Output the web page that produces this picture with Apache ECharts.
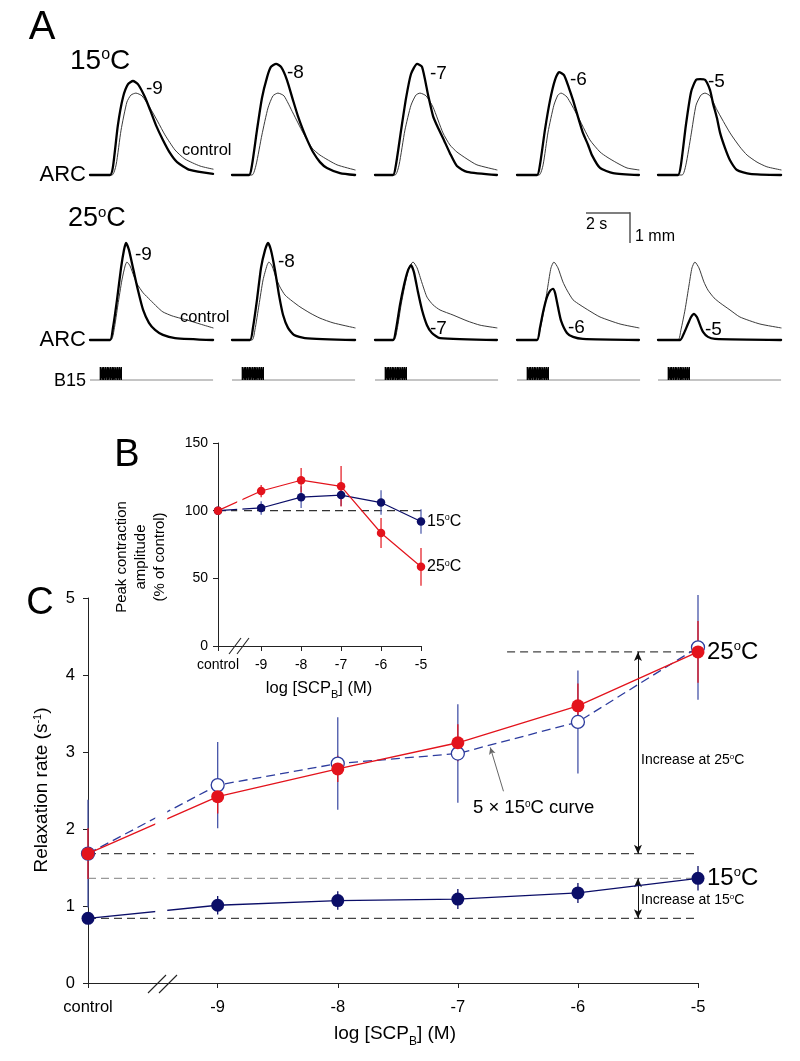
<!DOCTYPE html>
<html>
<head>
<meta charset="utf-8">
<title>SCPB - ARC contraction and relaxation</title>
<script src="https://cdn.jsdelivr.net/npm/echarts@6.0.0/dist/echarts.min.js"></script>
<style>
html, body { margin: 0; padding: 0; background: #fff; }
#chart { width: 800px; height: 1061px; }
</style>
</head>
<body>
<div id="chart"></div>
<script>
// dose axis (control + log molar concentrations)
var concLabels = ['control', '-9', '-8', '-7', '-6', '-5'];
var concX = [-10.08, -9, -8, -7, -6, -5];

// panel B: peak contraction amplitude, % of control
var peak15 = [100, 102, 110, 111.5, 106, 92];
var peak15Err = [0, 5, 8, 8, 9, 9];
var peak25 = [100, 114.5, 122.5, 118, 83.5, 58.5];
var peak25Err = [0, 4.5, 9, 15, 11, 14];

// panel C: relaxation rate, 1/s
var relax15 = [0.84, 1.01, 1.07, 1.09, 1.17, 1.36];
var relax15Err = [0.06, 0.12, 0.12, 0.13, 0.13, 0.16];
var relax25 = [1.68, 2.42, 2.78, 3.12, 3.6, 4.3];
var relax25Err = [0.33, 0.22, 0.17, 0.24, 0.29, 0.4];
var relax15x5 = [1.68, 2.57, 2.85, 2.98, 3.39, 4.36];
var relax15x5Err = [0.7, 0.56, 0.6, 0.64, 0.67, 0.68];

// panel A: ARC contraction traces [time s, mm], thick = SCPB, thin = control
var arc15_9 = [[0,0],[0.89,0],[1.02,0.21],[1.24,1.28],[1.47,2.0],[1.69,2.33],[1.91,2.41],[2.13,2.33],[2.44,2.0],[2.67,1.67],[2.93,1.28],[3.24,0.9],[3.56,0.56],[3.87,0.33],[4.44,0.13],[5.47,0.03]];
var ctl15_9 = [[0,0],[0.98,0],[1.16,0.26],[1.38,1.15],[1.64,1.87],[1.82,2.05],[2.04,2.1],[2.31,2.03],[2.67,1.72],[3.02,1.36],[3.33,1.03],[3.78,0.64],[4.22,0.41],[4.89,0.23],[5.47,0.15]];
var arc15_8 = [[0,0],[0.76,0],[0.89,0.26],[1.11,1.15],[1.33,1.97],[1.56,2.51],[1.73,2.77],[1.96,2.85],[2.18,2.77],[2.44,2.44],[2.71,1.92],[2.93,1.51],[3.16,1.15],[3.38,0.85],[3.6,0.59],[3.91,0.33],[4.22,0.18],[4.8,0.05],[5.47,0]];
var ctl15_8 = [[0,0],[0.89,0],[1.07,0.26],[1.33,1.03],[1.6,1.72],[1.82,2.03],[2.04,2.1],[2.31,2.03],[2.71,1.59],[3.16,1.08],[3.56,0.69],[3.91,0.51],[4.67,0.26],[5.47,0.13]];
var arc15_7 = [[0,0],[0.8,0],[0.93,0.26],[1.16,1.15],[1.38,1.97],[1.6,2.59],[1.87,2.85],[2.09,2.77],[2.36,2.05],[2.58,1.51],[2.8,1.21],[3.02,0.95],[3.33,0.56],[3.64,0.23],[4.09,0.08],[5.42,0]];
var ctl15_7 = [[0,0],[0.89,0],[1.07,0.26],[1.33,1.15],[1.6,1.79],[1.82,2.05],[2.0,2.1],[2.27,2.03],[2.58,1.74],[3.02,1.08],[3.33,0.77],[3.64,0.59],[4.09,0.41],[4.53,0.26],[5.42,0.13]];
var arc15_6 = [[0,0],[0.89,0],[1.02,0.26],[1.24,1.15],[1.47,1.92],[1.69,2.44],[1.87,2.64],[2.09,2.56],[2.31,2.23],[2.49,1.92],[2.71,1.49],[2.93,1.08],[3.16,0.77],[3.33,0.51],[3.69,0.18],[4.27,0.05],[5.42,0]];
var ctl15_6 = [[0,0],[0.98,0],[1.16,0.26],[1.38,1.1],[1.64,1.79],[1.82,2.05],[1.96,2.1],[2.22,2.0],[2.67,1.54],[3.24,0.9],[3.69,0.59],[4.0,0.46],[4.44,0.31],[4.89,0.18],[5.42,0.13]];
var arc15_5 = [[0,0],[0.89,0],[1.02,0.26],[1.24,1.28],[1.47,2.13],[1.69,2.44],[1.87,2.46],[2.09,2.44],[2.31,2.18],[2.44,1.85],[2.62,1.46],[2.76,1.08],[2.98,0.69],[3.2,0.38],[3.51,0.13],[4.09,0.03],[5.47,0]];
var ctl15_5 = [[0,0],[1.07,0],[1.24,0.26],[1.47,1.03],[1.69,1.79],[1.91,2.05],[2.09,2.1],[2.31,2.03],[2.62,1.67],[3.2,1.08],[3.64,0.72],[3.96,0.51],[4.4,0.33],[4.84,0.21],[5.47,0.13]];

var arc25_9 = [[0,0],[0.89,0],[1.02,0.31],[1.2,1.03],[1.38,1.85],[1.51,2.31],[1.6,2.49],[1.73,2.31],[1.91,1.85],[2.13,1.28],[2.36,0.77],[2.62,0.44],[2.89,0.26],[3.24,0.13],[3.78,0.05],[5.47,0]];
var ctl25_9 = [[0,0],[0.93,0],[1.07,0.26],[1.24,0.9],[1.42,1.54],[1.56,1.9],[1.64,2.0],[1.78,1.9],[1.96,1.62],[2.09,1.44],[2.36,1.21],[2.67,1.03],[2.98,0.85],[3.24,0.72],[3.64,0.62],[4.0,0.56],[4.44,0.49],[4.89,0.41],[5.47,0.31]];
var arc25_8 = [[0,0],[0.8,0],[0.93,0.31],[1.11,1.03],[1.29,1.85],[1.47,2.31],[1.6,2.49],[1.73,2.31],[1.91,1.79],[2.09,1.15],[2.27,0.64],[2.49,0.31],[2.76,0.13],[3.24,0.05],[5.47,0]];
var ctl25_8 = [[0,0],[0.89,0],[1.02,0.26],[1.2,0.9],[1.38,1.54],[1.56,1.92],[1.64,2.0],[1.78,1.9],[1.96,1.59],[2.13,1.36],[2.36,1.15],[2.67,1.0],[3.02,0.85],[3.47,0.69],[3.91,0.56],[4.49,0.44],[5.47,0.31]];
var arc25_7 = [[0,0],[0.8,0],[0.93,0.26],[1.11,0.9],[1.29,1.41],[1.47,1.79],[1.6,1.92],[1.73,1.74],[1.91,1.23],[2.09,0.77],[2.31,0.38],[2.53,0.18],[2.89,0.05],[5.42,0]];
var ctl25_7 = [[0,0],[0.84,0],[0.98,0.26],[1.16,0.9],[1.33,1.41],[1.51,1.85],[1.69,2.0],[1.87,1.85],[2.09,1.46],[2.31,1.1],[2.58,0.9],[2.89,0.77],[3.47,0.64],[4.09,0.49],[4.67,0.38],[5.42,0.31]];
var arc25_6 = [[0,0],[0.89,0],[1.02,0.31],[1.16,0.72],[1.33,1.1],[1.47,1.26],[1.6,1.31],[1.69,1.21],[1.82,0.85],[1.96,0.49],[2.22,0.18],[2.49,0.08],[2.93,0.03],[5.42,0]];
var ctl25_6 = [[0,0],[0.89,0],[1.02,0.26],[1.2,0.77],[1.38,1.41],[1.51,1.85],[1.64,2.0],[1.82,1.85],[2.04,1.49],[2.22,1.28],[2.49,1.03],[2.8,0.9],[3.24,0.74],[3.69,0.59],[4.58,0.41],[5.42,0.31]];
var arc25_5 = [[0,0],[0.98,0],[1.16,0.18],[1.33,0.41],[1.47,0.59],[1.6,0.67],[1.73,0.59],[1.87,0.38],[2.0,0.21],[2.22,0.08],[2.53,0.03],[5.47,0]];
var ctl25_5 = [[0,0],[0.89,0],[1.02,0.26],[1.2,0.77],[1.38,1.41],[1.51,1.85],[1.64,2.0],[1.82,1.85],[2.04,1.49],[2.22,1.28],[2.49,1.08],[2.76,0.95],[3.2,0.77],[3.64,0.59],[4.53,0.41],[5.47,0.31]];

// B15 burst, spike times in s
var spikeTimes = [0.46, 0.54, 0.61, 0.69, 0.77, 0.84, 0.92, 1.0, 1.07, 1.15, 1.23, 1.31, 1.39];

var FONT = '"Liberation Sans", Arial, Helvetica, sans-serif';
var RED = '#e3131c';
var NAVY = '#0b0e68';
var BLUE = '#2d3c9e';
var BLUE_ERR = '#4654a8';
var sweep = 5.47;   // seconds shown per sweep
var mmTop = 3;      // mm shown above baseline

var chart = echarts.init(document.getElementById('chart'));

var grids = [], xAxes = [], yAxes = [], series = [], graphics = [];

function addGrid(box, xa, ya) {
	var i = grids.length;
	grids.push(box);
	xa.gridIndex = i;
	ya.gridIndex = i;
	xAxes.push(xa);
	yAxes.push(ya);
	return i;
}

function hiddenAxis(max) {
	return { type: 'value', min: 0, max: max, show: false };
}

function pairs(xs, ys) {
	return xs.map(function (x, i) { return [x, ys[i]]; });
}

function traceLine(gi, data, color, width) {
	return {
		type: 'line', xAxisIndex: gi, yAxisIndex: gi, data: data,
		symbol: 'none', showSymbol: false, smooth: 0.2, clip: false, silent: true,
		lineStyle: { color: color, width: width, cap: 'round', join: 'round' }, z: 3
	};
}

// superscript: small token pinned to the top of the line
function supRich(size) {
	var s = Math.round(size * 0.56);
	return {
		m: { fontSize: size, lineHeight: size, fontFamily: FONT, verticalAlign: 'bottom', fill: '#000', color: '#000' },
		s: { fontSize: s, lineHeight: s, fontFamily: FONT, verticalAlign: 'top', fill: '#000', color: '#000' }
	};
}

// subscript: small token pinned to the bottom of a slightly taller line
function subRich(size) {
	var b = Math.round(size * 0.65);
	var lh = Math.round(size + 4);
	return {
		m: { fontSize: size, lineHeight: lh, fontFamily: FONT, verticalAlign: 'top', fill: '#000', color: '#000' },
		b: { fontSize: b, lineHeight: lh, fontFamily: FONT, verticalAlign: 'bottom', fill: '#000', color: '#000' }
	};
}

function text(x, y, str, size, align, extra) {
	extra = extra || {};
	var va = extra.vAlign || 'middle';
	var st = {
		text: str, x: 0, y: 0, fill: '#000', fontSize: size, fontFamily: FONT,
		align: align || 'left', verticalAlign: va, textAlign: align || 'left', textVerticalAlign: va
	};
	if (extra.rich) st.rich = extra.rich;
	if (extra.lineHeight) st.lineHeight = extra.lineHeight;
	return { type: 'text', x: x, y: y, rotation: extra.rotation || 0, silent: true, z: 100, style: st };
}

function seg(x1, y1, x2, y2, color, w) {
	return { type: 'line', silent: true, z: 100, shape: { x1: x1, y1: y1, x2: x2, y2: y2 }, style: { stroke: color, lineWidth: w } };
}

function errorBars(gi, vals, errs, color, width, z) {
	var data = [];
	for (var i = 0; i < vals.length; i++) {
		data.push([concX[i], vals[i] - errs[i], vals[i] + errs[i]]);
	}
	return {
		type: 'custom', xAxisIndex: gi, yAxisIndex: gi, z: z, silent: true,
		encode: { x: 0, y: [1, 2] },
		data: data,
		renderItem: function (params, api) {
			var lo = api.coord([api.value(0), api.value(1)]);
			var hi = api.coord([api.value(0), api.value(2)]);
			return {
				type: 'line',
				shape: { x1: lo[0], y1: lo[1], x2: hi[0], y2: hi[1] },
				style: { stroke: color, lineWidth: width }
			};
		}
	};
}

function refLine(gi, x0, x1, y, color) {
	return {
		type: 'line', xAxisIndex: gi, yAxisIndex: gi, data: [[x0, y], [x1, y]],
		symbol: 'none', silent: true, z: 2,
		lineStyle: { color: color, width: 1.2, type: [8, 5] }
	};
}

// white band that opens the axis break in every line
function gapMask(gi, x0, x1, y0, y1) {
	return {
		type: 'custom', xAxisIndex: gi, yAxisIndex: gi, z: 9, silent: true,
		encode: { x: [0, 1], y: [2, 3] },
		data: [[x0, x1, y0, y1]],
		renderItem: function (params, api) {
			var a = api.coord([api.value(0), api.value(3)]);
			var b = api.coord([api.value(1), api.value(2)]);
			return {
				type: 'rect',
				shape: { x: a[0], y: a[1], width: b[0] - a[0], height: b[1] - a[1] },
				style: { fill: '#fff' }
			};
		}
	};
}

function tickName(v) {
	return v < -10 ? concLabels[0] : String(Math.round(v));
}

function doseAxis(fontSize, margin) {
	return {
		type: 'value', min: concX[0], max: concX[5], splitLine: { show: false },
		axisLine: { show: true, onZero: false, lineStyle: { color: '#222', width: 1 } },
		axisTick: { show: true, customValues: concX, length: 5, lineStyle: { color: '#222' } },
		axisLabel: { customValues: concX, formatter: tickName, fontSize: fontSize, margin: margin, color: '#000', fontFamily: FONT }
	};
}

function valueAxis(max, interval, fontSize, margin) {
	return {
		type: 'value', min: 0, max: max, interval: interval, splitLine: { show: false },
		axisLine: { show: true, lineStyle: { color: '#222', width: 1 } },
		axisTick: { show: true, length: 5, lineStyle: { color: '#222' } },
		axisLabel: { fontSize: fontSize, margin: margin, color: '#000', fontFamily: FONT }
	};
}

// ---------- panel A ----------
var colLeft = [90, 232, 375, 517, 658];
var traceRows = [
	{ base: 175, scp: [arc15_9, arc15_8, arc15_7, arc15_6, arc15_5], ctl: [ctl15_9, ctl15_8, ctl15_7, ctl15_6, ctl15_5] },
	{ base: 340, scp: [arc25_9, arc25_8, arc25_7, arc25_6, arc25_5], ctl: [ctl25_9, ctl25_8, ctl25_7, ctl25_6, ctl25_5] }
];
var pxPerMm = 39, pxPerS = 22.5;

traceRows.forEach(function (row) {
	for (var c = 0; c < colLeft.length; c++) {
		var gi = addGrid(
			{ left: colLeft[c], top: row.base - mmTop * pxPerMm, width: sweep * pxPerS, height: mmTop * pxPerMm },
			hiddenAxis(sweep), hiddenAxis(mmTop));
		series.push(traceLine(gi, row.ctl[c], '#3a3a3a', 1));
		series.push(traceLine(gi, row.scp[c], '#000', 2.3));
	}
});

// B15 bursts
for (var c = 0; c < colLeft.length; c++) {
	var gb = addGrid({ left: colLeft[c], top: 367, width: sweep * pxPerS, height: 13 }, hiddenAxis(sweep), hiddenAxis(1));
	var burst = [];
	spikeTimes.forEach(function (t) { burst.push([t, 0], [t, 1], [t, 0]); });
	series.push({
		type: 'line', xAxisIndex: gb, yAxisIndex: gb, data: [[0, 0], [sweep, 0]], symbol: 'none',
		silent: true, clip: false, lineStyle: { color: '#8a8a8a', width: 1 }, z: 2
	});
	series.push({
		type: 'line', xAxisIndex: gb, yAxisIndex: gb, data: burst, symbol: 'none',
		silent: true, clip: false, lineStyle: { color: '#000', width: 1.4 }, z: 3
	});
}

// ---------- panel B ----------
var gB = addGrid({ left: 218, top: 443, width: 203, height: 203 }, doseAxis(14, 12), valueAxis(150, 50, 14, 10));
series.push(refLine(gB, concX[0], concX[5], peak15[0], '#333'));
series.push(errorBars(gB, peak15, peak15Err, BLUE_ERR, 1.2, 3));
series.push(errorBars(gB, peak25, peak25Err, RED, 1.2, 4));
series.push({
	type: 'line', xAxisIndex: gB, yAxisIndex: gB, data: pairs(concX, peak15),
	symbol: 'circle', symbolSize: 8.5, itemStyle: { color: NAVY }, lineStyle: { color: NAVY, width: 1.2 }, z: 5,
	silent: true,
	endLabel: { show: true, formatter: '{m|15}{s|o}{m|C}', rich: supRich(16), distance: 6 }
});
series.push({
	type: 'line', xAxisIndex: gB, yAxisIndex: gB, data: pairs(concX, peak25),
	symbol: 'circle', symbolSize: 8.5, itemStyle: { color: RED }, lineStyle: { color: RED, width: 1.2 }, z: 6,
	silent: true,
	endLabel: { show: true, formatter: '{m|25}{s|o}{m|C}', rich: supRich(16), distance: 6 }
});
series.push(gapMask(gB, -9.6, -9.47, 3, 150));

// ---------- panel C ----------
var gC = addGrid({ left: 88, top: 598, width: 610, height: 385 }, doseAxis(16.5, 16), valueAxis(5, 1, 16.5, 13));
series.push(refLine(gC, -6.59, concX[5], relax25[5], '#444'));
series.push(refLine(gC, concX[0], concX[5], relax25[0], '#444'));
series.push(refLine(gC, concX[0], concX[5], relax15[5], '#999'));
series.push(refLine(gC, concX[0], concX[5], relax15[0], '#444'));
series.push(errorBars(gC, relax15x5, relax15x5Err, BLUE_ERR, 1.3, 3));
series.push(errorBars(gC, relax25, relax25Err, RED, 1.3, 4));
series.push(errorBars(gC, relax15, relax15Err, NAVY, 1.3, 4));
series.push({
	type: 'line', xAxisIndex: gC, yAxisIndex: gC, data: pairs(concX, relax15x5),
	symbol: 'circle', symbolSize: 13, itemStyle: { color: '#fff', borderColor: BLUE, borderWidth: 1.3 },
	lineStyle: { color: BLUE, width: 1.3, type: [9, 5] }, z: 5, silent: true
});
series.push({
	type: 'line', xAxisIndex: gC, yAxisIndex: gC, data: pairs(concX, relax25),
	symbol: 'circle', symbolSize: 13, itemStyle: { color: RED }, lineStyle: { color: RED, width: 1.3 }, z: 6,
	silent: true,
	endLabel: { show: true, formatter: '{m|25}{s|o}{m|C}', rich: supRich(24), distance: 9 }
});
series.push({
	type: 'line', xAxisIndex: gC, yAxisIndex: gC, data: pairs(concX, relax15),
	symbol: 'circle', symbolSize: 13, itemStyle: { color: NAVY }, lineStyle: { color: NAVY, width: 1.3 }, z: 6,
	silent: true,
	endLabel: { show: true, formatter: '{m|15}{s|o}{m|C}', rich: supRich(24), distance: 9 }
});
// increase arrows and the pointer to the 5x curve
series.push({
	type: 'line', xAxisIndex: gC, yAxisIndex: gC, data: [], symbol: 'none', silent: true, z: 7,
	markLine: {
		silent: true, animation: false,
		label: { show: false },
		symbol: ['arrow', 'arrow'], symbolSize: [6, 9],
		lineStyle: { color: '#111', width: 1, type: 'solid' },
		data: [
			[{ coord: [-5.5, relax25[5]] }, { coord: [-5.5, relax25[0]] }],
			[{ coord: [-5.5, relax15[5]] }, { coord: [-5.5, relax15[0]] }],
			[{ coord: [-6.62, 2.49], symbol: 'none' }, { coord: [-6.73, 3.06], symbol: 'arrow', symbolSize: [5, 7], lineStyle: { color: '#666', width: 1 } }]
		]
	}
});
series.push(gapMask(gC, -9.52, -9.42, 0.08, 5));

// ---------- texts ----------
graphics.push(text(42, 28, 'A', 40, 'center'));
graphics.push(text(70, 61, '{m|15}{s|o}{m|C}', 28, 'left', { rich: supRich(28) }));
graphics.push(text(68, 219, '{m|25}{s|o}{m|C}', 27, 'left', { rich: supRich(27) }));
graphics.push(text(86, 175, 'ARC', 22, 'right'));
graphics.push(text(86, 340, 'ARC', 22, 'right'));
graphics.push(text(86, 381, 'B15', 18, 'right'));

var row1Lab = [[146, 89], [287, 73], [430, 74], [570, 80], [708, 82]];
var row2Lab = [[135, 255], [278, 262], [430, 329], [568, 328], [705, 330]];
for (var k = 0; k < 5; k++) {
	graphics.push(text(row1Lab[k][0], row1Lab[k][1], concLabels[k + 1], 19, 'left'));
	graphics.push(text(row2Lab[k][0], row2Lab[k][1], concLabels[k + 1], 19, 'left'));
}
graphics.push(text(182, 150, 'control', 16.5, 'left'));
graphics.push(text(180, 317, 'control', 16.5, 'left'));

// scale bar
graphics.push(seg(586, 213, 630, 213, '#555', 1.5));
graphics.push(seg(630, 212.3, 630, 243, '#555', 1.5));
graphics.push(text(586, 225, '2 s', 16, 'left'));
graphics.push(text(635, 237, '1 mm', 16, 'left'));

// panel B labels
graphics.push(text(127, 456, 'B', 38, 'center'));
graphics.push(text(141, 557, 'Peak contraction\namplitude\n(% of control)', 15, 'center', { rotation: Math.PI / 2, lineHeight: 19 }));
graphics.push(text(319, 690, '{m|log [SCP}{b|B}{m|] (M)}', 16.5, 'center', { rich: subRich(16.5) }));
graphics.push(seg(229, 654, 241, 638, '#222', 1.1));
graphics.push(seg(237, 654, 249, 638, '#222', 1.1));

// panel C labels
graphics.push(text(40, 604, 'C', 38, 'center'));
graphics.push(text(42, 790, '{m|Relaxation rate (s}{s|-1}{m|)}', 19, 'center', { rich: supRich(19), rotation: Math.PI / 2 }));
graphics.push(text(395, 1036, '{m|log [SCP}{b|B}{m|] (M)}', 19, 'center', { rich: subRich(19) }));
graphics.push(text(641, 760, '{m|Increase at 25}{s|o}{m|C}', 14, 'left', { rich: supRich(14) }));
graphics.push(text(641, 900, '{m|Increase at 15}{s|o}{m|C}', 14, 'left', { rich: supRich(14) }));
graphics.push(text(473, 808, '{m|5 \u00d7 15}{s|o}{m|C curve}', 18.5, 'left', { rich: supRich(18.5) }));
graphics.push(seg(148, 993, 166, 975, '#222', 1.1));
graphics.push(seg(159, 993, 177, 975, '#222', 1.1));

chart.setOption({
	backgroundColor: '#fff',
	animation: false,
	textStyle: { fontFamily: FONT },
	grid: grids,
	xAxis: xAxes,
	yAxis: yAxes,
	series: series,
	graphic: graphics
});
</script>
</body>
</html>
